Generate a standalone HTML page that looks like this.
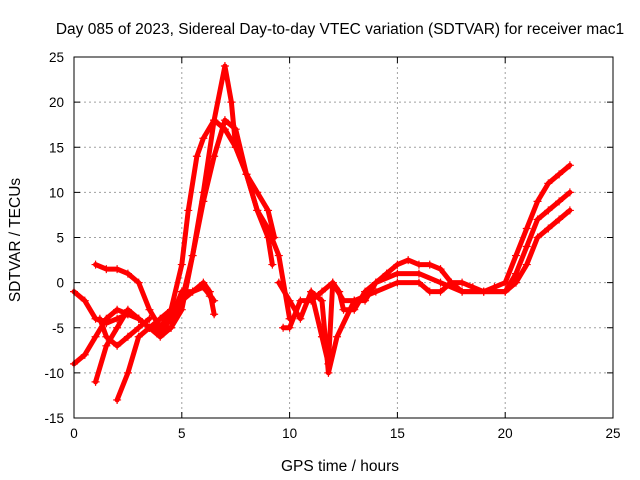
<!DOCTYPE html>
<html><head><meta charset="utf-8"><style>
body{margin:0;background:#fff}
svg{display:block;font-family:"Liberation Sans",sans-serif}
</style></head><body>
<svg id="chart" width="640" height="480">
<text x="340" y="34" font-size="15.5" text-anchor="middle">Day 085 of 2023, Sidereal Day-to-day VTEC variation (SDTVAR) for receiver mac1</text>
<text x="340" y="471" font-size="15.5" text-anchor="middle">GPS time / hours</text>
<text x="0" y="0" font-size="15.5" text-anchor="middle" transform="translate(20,240) rotate(-90)">SDTVAR / TECUs</text>
<g id="grid"></g>
<g id="series"></g>
<rect x="74" y="57" width="539" height="361" fill="none" stroke="#000"/>
<g id="axes"></g>
</svg>
<script>
const xTicks=[0,5,10,15,20,25];
const yTicks=[-15,-10,-5,0,5,10,15,20,25];
const trackA=[[0,-1],[0.5,-2],[1,-4],[1.5,-4.5],[2,-4],[2.5,-3.5],[3,-4],[3.5,-5],[4,-5],[4.5,-3],[5,2],[5.3,8],[5.7,14],[6,16],[6.5,18],[7,17],[7.5,15],[8,12],[8.5,8],[9,5],[9.2,2]];
const trackB=[[0,-9],[0.5,-8],[1,-6],[1.5,-4],[2,-3],[2.5,-3.5],[3,-4],[3.5,-5],[4,-6],[4.5,-5],[5,-2],[5.5,3],[6,9],[6.5,14],[7,18],[7.5,17],[8,12],[8.5,8],[9,6],[9.5,3],[10,-4]];
const trackC=[[1,-11],[1.5,-7],[2,-5],[2.5,-3],[3,-4],[3.5,-5],[4,-5.5],[4.5,-4],[5,-1],[5.5,-1],[6,0],[6.3,-1],[6.5,-3.5]];
const trackD=[[2,-13],[2.5,-10],[3,-6],[3.5,-5],[4,-4],[4.5,-3],[5,-2],[5.5,-1],[6,-0.5],[6.5,-2],[6.3,-1.5]];
const trackE=[[1,2],[1.5,1.5],[2,1.5],[2.5,1],[3,0],[3.5,-3],[4,-5],[4.5,-5],[5,-3],[5.5,3],[6,10],[6.5,18],[7,24],[7.3,20],[7.5,15],[8,12],[8.5,10],[9,8],[9.3,5]];
const trackF=[[1.2,-4],[1.5,-6],[2,-7],[2.5,-6],[3,-5],[3.5,-4]];
const trackG=[[9.7,-5],[10,-5],[10.5,-2],[11,-2],[11.5,-1],[12,0],[12.3,-1],[12.5,-3],[13,-3],[13.5,-1],[14,0],[14.5,1],[15,2],[15.5,2.5],[16,2],[16.5,2],[17,1.5],[17.5,0],[18,0],[18.5,-0.5],[19,-1],[19.5,-0.5],[20,0],[20.5,3],[21,6],[21.5,9],[22,11],[22.5,12],[23,13]];
const trackH=[[9.5,0],[10,-2],[10.5,-4],[11,-1],[11.5,-6],[11.8,-9],[12,0],[12.5,-2],[13,-2],[14,-1],[15,0],[16,0],[16.5,-1],[17,-1],[17.5,0],[18,-1],[19,-1],[20,-1],[20.5,1],[21,4],[21.5,7],[22,8],[22.5,9],[23,10]];
const trackI=[[11,-1],[11.5,-2],[11.8,-10],[12.2,-6],[13,-2],[13.5,-2],[14,0],[15,1],[16,1],[17,0],[18,-1],[19,-1],[20,-1],[20.5,0],[21,2],[21.5,5],[22,6],[22.5,7],[23,8]];
const tracks=[trackA,trackB,trackC,trackD,trackE,trackF,trackG,trackH,trackI];
const X0=74,X1=613,Y0=418,Y1=57;
const xs=v=>X0+(v-0)/25*(X1-X0);
const ys=v=>Y0-(v+15)/40*(Y0-Y1);
const NS="http://www.w3.org/2000/svg";
function mk(t,a,p){const e=document.createElementNS(NS,t);for(const k in a)e.setAttribute(k,a[k]);p.appendChild(e);return e;}
const grid=document.getElementById('grid'),axes=document.getElementById('axes'),ser=document.getElementById('series');
xTicks.forEach(t=>{const x=xs(t);
 if(t>0&&t<25){const g=mk('line',{x1:x,x2:x,y1:Y1,y2:Y0,stroke:'#a0a0a0','stroke-dasharray':'2,3'},grid);}
 mk('line',{x1:x,x2:x,y1:Y0,y2:Y0-6,stroke:'#000'},axes);mk('line',{x1:x,x2:x,y1:Y1,y2:Y1+6,stroke:'#000'},axes);
 const l=mk('text',{x:x,y:Y0+20,'font-size':13.5,'text-anchor':'middle'},axes);l.textContent=t;
 });
yTicks.forEach(t=>{const y=ys(t);
 if(t>-15&&t<25){const g=mk('line',{x1:X0,x2:X1,y1:y,y2:y,stroke:'#a0a0a0','stroke-dasharray':'2,3'},grid);}
 mk('line',{x1:X0,x2:X0+6,y1:y,y2:y,stroke:'#000'},axes);mk('line',{x1:X1,x2:X1-6,y1:y,y2:y,stroke:'#000'},axes);
 const l=mk('text',{x:X0-10,y:y+5,'font-size':13.5,'text-anchor':'end'},axes);l.textContent=t;
 });
tracks.forEach((tr,i)=>{
 const g=mk('g',{},ser);
 
 
 mk('polyline',{points:tr.map(p=>xs(p[0])+','+ys(p[1])).join(' '),fill:'none',stroke:'#ff0000','stroke-width':5,'stroke-linejoin':'round','stroke-linecap':'round'},g);
 tr.forEach(p=>{const x=xs(p[0]),y=ys(p[1]);
  const m=mk('path',{d:`M${x-4},${y}H${x+4}M${x},${y-4}V${y+4}`,stroke:'#ff0000','stroke-width':1.2},g);
  });
});
</script>
</body></html>
